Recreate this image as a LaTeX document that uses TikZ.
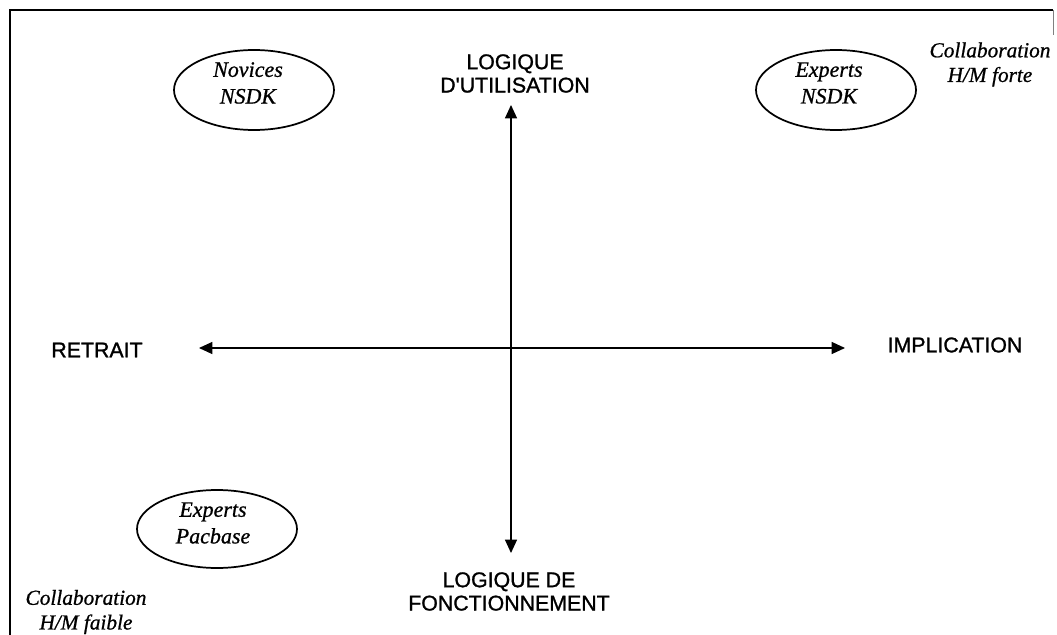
\documentclass[tikz,border=0pt]{standalone}
\usepackage{fontspec}
\setmainfont{Liberation Serif}
\setsansfont{Liberation Sans}[Ligatures=TeXOff]
\newfontfamily\polefont{Liberation Sans}[Ligatures=TeXOff, FakeBold=1.2]
\newfontfamily\groupefont{Liberation Serif Italic}[FakeBold=0.8]
\usetikzlibrary{arrows.meta,shapes.geometric}
\begin{document}
\begin{tikzpicture}[x=0.75pt,y=-0.75pt,
        axe/.style={line width=0.9pt, {Triangle[length=10pt,width=9pt]}-{Triangle[length=10pt,width=9pt]}},
        bulle/.style={ellipse, draw, line width=1.3pt, minimum width=120pt, minimum height=60pt, inner sep=0pt},
        pole/.style={font=\polefont\fontsize{16}{17.5}\selectfont, align=center, inner sep=0pt},
        groupe/.style={font=\groupefont\fontsize{16.5}{20}\selectfont, align=center, inner sep=0pt},
        collab/.style={font=\groupefont\fontsize{16}{18.5}\selectfont, align=center, inner sep=0pt}]
            \useasboundingbox (0,0) rectangle (1057,635);
            \draw[line width=1.8pt] (10,635) -- (10,10) -- (1053,10);
            \draw[gray, line width=0.6pt] (1053,10) -- (1053,35);

            % poles des deux axes
            \node[pole] (util) at (515,73.5) {LOGIQUE\\D'UTILISATION};
            \node[pole] (fonct) at (509,591.5) {LOGIQUE DE\\FONCTIONNEMENT};
            \node[pole] (retrait) at (97,350) {RETRAIT};
            \node[pole] (impl) at (955,345) {IMPLICATION};

            \coordinate (haut) at (511,105);
            \coordinate (bas) at (511,553);
            \coordinate (gauche) at (199,348);
            \coordinate (droite) at (845,348);
            \draw[axe] (haut) -- (bas);
            \draw[axe] (gauche) -- (droite);

            % groupes d'utilisateurs
            \node[bulle] (novices) at (254,90) {};
            \node[groupe] (novicestxt) at (248,83) {Novices\\NSDK};
            \node[bulle] (expnsdk) at (836,90) {};
            \node[groupe] (expnsdktxt) at (829,83) {Experts\\NSDK};
            \node[bulle, minimum height=58.5pt] (exppac) at (217,529) {};
            \node[groupe] (exppactxt) at (213,523) {Experts\\Pacbase};

            \node[collab] (forte) at (990,64.5) {Collaboration\\H/M forte};
            \node[collab] (faible) at (86,612) {Collaboration\\H/M faible};

        \end{tikzpicture}
\end{document}
